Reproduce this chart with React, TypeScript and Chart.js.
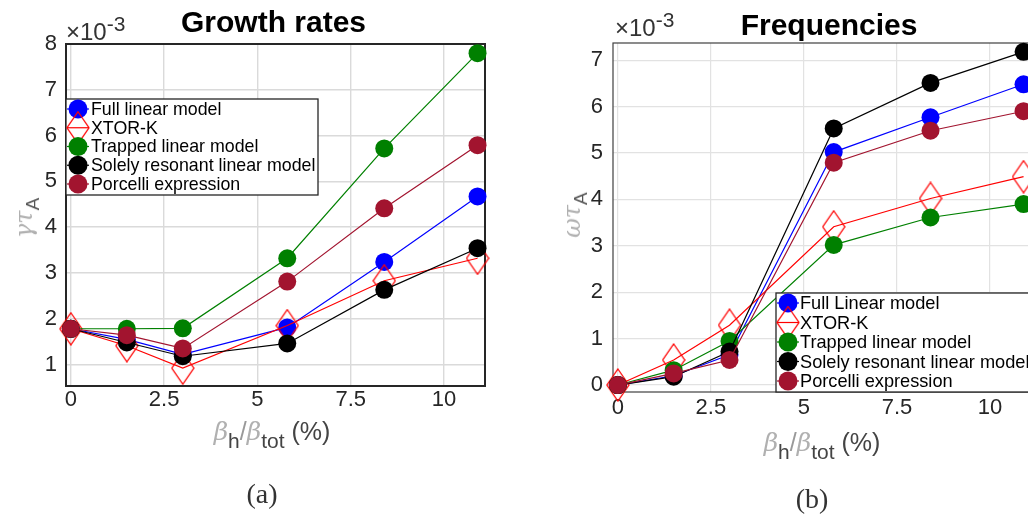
import React, { useEffect, useRef } from "react";
import { Chart, registerables } from "chart.js";

Chart.register(...registerables);

// ---------- data ----------
const betaRatio = [0, 1.5, 3, 5.8, 8.4, 10.9]; // beta_h / beta_tot (%)
const xTickValues = [0, 2.5, 5, 7.5, 10];

// Growth rates gamma*tau_A (x 10^-3)
const growthFull = [1.78, 1.55, 1.22, 1.81, 3.24, 4.67];
const growthXtor = [1.78, 1.41, 0.92, 1.85, 2.83, 3.32];
const growthTrapped = [1.78, 1.78, 1.79, 3.32, 5.72, 7.8];
const growthResonant = [1.78, 1.48, 1.18, 1.46, 2.63, 3.54];
const growthPorcelli = [1.78, 1.64, 1.35, 2.81, 4.41, 5.79];
const growthYTicks = [1, 2, 3, 4, 5, 6, 7, 8];

// Frequencies omega*tau_A (x 10^-3)
const freqFull = [0, 0.2, 0.65, 5.02, 5.77, 6.48];
const freqXtor = [0, 0.54, 1.29, 3.41, 4.02, 4.49];
const freqTrapped = [0, 0.32, 0.95, 3.02, 3.61, 3.9];
const freqResonant = [0, 0.18, 0.72, 5.53, 6.51, 7.18];
const freqPorcelli = [0, 0.25, 0.54, 4.79, 5.48, 5.9];
const freqYTicks = [0, 1, 2, 3, 4, 5, 6, 7];

const growthLabels = [
  "Full linear model",
  "XTOR-K",
  "Trapped linear model",
  "Solely resonant linear model",
  "Porcelli expression",
];
const freqLabels = [
  "Full Linear model",
  "XTOR-K",
  "Trapped linear model",
  "Solely resonant linear model",
  "Porcelli expression",
];

const seriesColors = ["#0000ff", "#ff0000", "#008000", "#000000", "#a2142f"];
const seriesMarkers = ["circle", "diamond", "circle", "circle", "circle"];
const seriesOrder = [5, 4, 3, 2, 1];

const SANS = '"Liberation Sans", Arial, Helvetica, sans-serif';
const SERIF = '"DejaVu Serif", "Liberation Serif", serif';

let diamondCache: HTMLCanvasElement | null = null;
function diamond(): HTMLCanvasElement {
  if (diamondCache) return diamondCache;
  const c = document.createElement("canvas");
  c.width = 24;
  c.height = 34;
  const g = c.getContext("2d")!;
  g.strokeStyle = "#ff0000";
  g.lineWidth = 1.3;
  g.beginPath();
  g.moveTo(12, 1);
  g.lineTo(23, 17);
  g.lineTo(12, 33);
  g.lineTo(1, 17);
  g.closePath();
  g.stroke();
  diamondCache = c;
  return c;
}

type Spec = {
  values: number[][];
  labels: string[];
  yMin: number;
  yMax: number;
  yTicks: number[];
  padRight: number;
  padTop: number;
  yWidth: number;
  xHeight: number;
  frameColor: string;
  frameWidth: number;
  gridColor: string;
  gridWidth: number;
  xPad: number;
  yPad: number;
  legendFont: number;
  legend: { left: number; top: number; width: number; height: number; firstRow: number; rowH: number; markerX: number; textX: number };
};

function makeConfig(spec: Spec): any {
  const decor = {
    id: "decor",
    beforeDatasetsDraw(chart: any) {
      const { ctx, chartArea: a } = chart;
      ctx.save();
      ctx.strokeStyle = spec.frameColor;
      ctx.lineWidth = spec.frameWidth;
      ctx.strokeRect(a.left, a.top, a.right - a.left, a.bottom - a.top);
      ctx.restore();
    },
    afterDatasetsDraw(chart: any) {
      const ctx = chart.ctx;
      const L = spec.legend;
      ctx.save();
      ctx.fillStyle = "#ffffff";
      ctx.fillRect(L.left, L.top, L.width, L.height);
      ctx.strokeStyle = "#262626";
      ctx.lineWidth = 1.3;
      ctx.strokeRect(L.left, L.top, L.width, L.height);
      spec.labels.forEach((label, i) => {
        const y = L.firstRow + i * L.rowH;
        const color = seriesColors[i];
        ctx.strokeStyle = color;
        ctx.lineWidth = 1.2;
        ctx.beginPath();
        ctx.moveTo(L.markerX - 11, y);
        ctx.lineTo(L.markerX + 11, y);
        ctx.stroke();
        if (seriesMarkers[i] === "diamond") {
          const d = diamond();
          ctx.drawImage(d, L.markerX - d.width / 2, y - d.height / 2);
        } else {
          ctx.fillStyle = color;
          ctx.beginPath();
          ctx.arc(L.markerX, y, 9.5, 0, Math.PI * 2);
          ctx.fill();
        }
        ctx.fillStyle = "#000000";
        ctx.font = `${spec.legendFont}px ${SANS}`;
        ctx.textBaseline = "middle";
        ctx.textAlign = "left";
        ctx.fillText(label, L.textX, y + 1);
      });
      ctx.restore();
    },
  };

  const datasets = spec.values.map((vals, i) => ({
    label: spec.labels[i],
    data: betaRatio.map((x, k) => ({ x, y: vals[k] })),
    borderColor: seriesColors[i],
    backgroundColor: seriesColors[i],
    borderWidth: 1.2,
    pointStyle: seriesMarkers[i] === "diamond" ? diamond() : "circle",
    pointRadius: 9,
    pointBackgroundColor: seriesColors[i],
    pointBorderWidth: 0,
    tension: 0,
    clip: false,
    order: seriesOrder[i],
  }));

  return {
    type: "line",
    data: { datasets },
    options: {
      animation: false,
      responsive: false,
      devicePixelRatio: 1,
      events: [],
      layout: { padding: { left: 0, top: spec.padTop, right: spec.padRight, bottom: 0 } },
      plugins: { legend: { display: false }, title: { display: false }, tooltip: { enabled: false } },
      scales: {
        x: {
          type: "linear",
          min: -0.13,
          max: 11.1,
          afterBuildTicks: (s: any) => {
            s.ticks = xTickValues.map((value) => ({ value }));
          },
          afterFit: (s: any) => {
            s.height = spec.xHeight;
          },
          ticks: {
            font: { family: SANS, size: 22 },
            color: "#262626",
            padding: spec.xPad,
            maxRotation: 0,
            autoSkip: false,
            callback: (v: any) => String(v),
          },
          grid: { color: spec.gridColor, lineWidth: spec.gridWidth, drawTicks: false },
          border: { display: false },
        },
        y: {
          type: "linear",
          min: spec.yMin,
          max: spec.yMax,
          afterBuildTicks: (s: any) => {
            s.ticks = spec.yTicks.map((value) => ({ value }));
          },
          afterFit: (s: any) => {
            s.width = spec.yWidth;
          },
          ticks: {
            font: { family: SANS, size: 22 },
            color: "#262626",
            padding: spec.yPad,
            autoSkip: false,
            callback: (v: any) => String(v),
          },
          grid: { color: spec.gridColor, lineWidth: spec.gridWidth, drawTicks: false },
          border: { display: false },
        },
      },
    },
    plugins: [decor],
  };
}

function ChartCanvas({ spec, left, width, height }: { spec: Spec; left: number; width: number; height: number }) {
  const ref = useRef<HTMLCanvasElement | null>(null);
  useEffect(() => {
    const chart = new Chart(ref.current as HTMLCanvasElement, makeConfig(spec));
    return () => chart.destroy();
  }, []);
  return (
    <canvas
      ref={ref}
      width={width}
      height={height}
      style={{ position: "absolute", left, top: 0, width, height }}
    />
  );
}

const growthSpec: Spec = {
  values: [growthFull, growthXtor, growthTrapped, growthResonant, growthPorcelli],
  labels: growthLabels,
  yMin: 0.53,
  yMax: 8,
  yTicks: growthYTicks,
  padRight: 35,
  padTop: 44,
  yWidth: 66,
  xHeight: 54,
  frameColor: "#262626",
  frameWidth: 2,
  gridColor: "#dadada",
  gridWidth: 1.4,
  xPad: 1,
  yPad: 9,
  legendFont: 17.8,
  legend: { left: 66, top: 99, width: 252, height: 96, firstRow: 109, rowH: 18.75, markerX: 78, textX: 91 },
};

const freqSpec: Spec = {
  values: [freqFull, freqXtor, freqTrapped, freqResonant, freqPorcelli],
  labels: freqLabels,
  yMin: -0.15,
  yMax: 7.37,
  yTicks: freqYTicks,
  padRight: 17,
  padTop: 43,
  yWidth: 65,
  xHeight: 48,
  frameColor: "#404040",
  frameWidth: 1.2,
  gridColor: "#e2e2e2",
  gridWidth: 1.2,
  xPad: 3,
  yPad: 10,
  legendFont: 18.2,
  legend: { left: 228, top: 293, width: 300, height: 99, firstRow: 303, rowH: 19.5, markerX: 240, textX: 252 },
};

const abs = (s: React.CSSProperties): React.CSSProperties => ({ position: "absolute", whiteSpace: "nowrap", ...s });

function Exponent({ left, baseline }: { left: number; baseline: number }) {
  return (
    <div style={abs({ left, top: baseline - 20.3, font: `24px ${SANS}`, lineHeight: "24px", color: "#333" })}>
      ×10
      <span style={{ fontSize: "21px", position: "relative", top: "-9px" }}>-3</span>
    </div>
  );
}

function YTitle({ cx, cy, sym }: { cx: number; cy: number; sym: string }) {
  return (
    <div
      style={abs({
        left: cx,
        top: cy,
        transform: "translate(-50%, -50%) rotate(-90deg)",
        font: `24px ${SANS}`,
        lineHeight: "26px",
      })}
    >
      <span style={{ fontFamily: SERIF, fontStyle: "italic", color: "#b0b0b0" }}>{sym}</span>
      <span style={{ fontSize: "19px", color: "#555", position: "relative", top: "7px" }}>A</span>
    </div>
  );
}

function XTitle({ cx, cy }: { cx: number; cy: number }) {
  const greek: React.CSSProperties = { fontFamily: SERIF, fontStyle: "italic", color: "#b0b0b0" };
  const sub: React.CSSProperties = { fontSize: "21px", color: "#444", position: "relative", top: "8px" };
  return (
    <div style={abs({ left: cx, top: cy, transform: "translate(-50%, -50%)", font: `25px ${SANS}`, lineHeight: "28px", color: "#444" })}>
      <span style={greek}>β</span>
      <span style={sub}>h</span>
      <span style={{ color: "#999" }}>/</span>
      <span style={greek}>β</span>
      <span style={sub}>tot</span>
      <span> (%)</span>
    </div>
  );
}

export default function App() {
  return (
    <div style={{ position: "fixed", left: 0, top: 0, width: 1028, height: 518, overflow: "hidden", background: "#fff" }}>
      <ChartCanvas spec={growthSpec} left={0} width={520} height={440} />
      <ChartCanvas spec={freqSpec} left={548} width={500} height={440} />

      <div style={abs({ left: 273.5, top: 6.6, transform: "translateX(-50%)", font: `bold 30px ${SANS}`, lineHeight: "30px", color: "#000" })}>
        Growth rates
      </div>
      <div style={abs({ left: 829, top: 9.6, transform: "translateX(-50%)", font: `bold 30px ${SANS}`, lineHeight: "30px", color: "#000" })}>
        Frequencies
      </div>

      <Exponent left={66} baseline={40} />
      <Exponent left={615} baseline={36} />

      <YTitle cx={25} cy={218} sym="γτ" />
      <YTitle cx={573} cy={215} sym="ωτ" />

      <XTitle cx={272} cy={432} />
      <XTitle cx={822} cy={443} />

      <div style={abs({ left: 262, top: 494, transform: "translate(-50%, -50%)", font: `28px "Liberation Serif", serif`, color: "#333" })}>(a)</div>
      <div style={abs({ left: 812, top: 499, transform: "translate(-50%, -50%)", font: `28px "Liberation Serif", serif`, color: "#333" })}>(b)</div>
    </div>
  );
}
